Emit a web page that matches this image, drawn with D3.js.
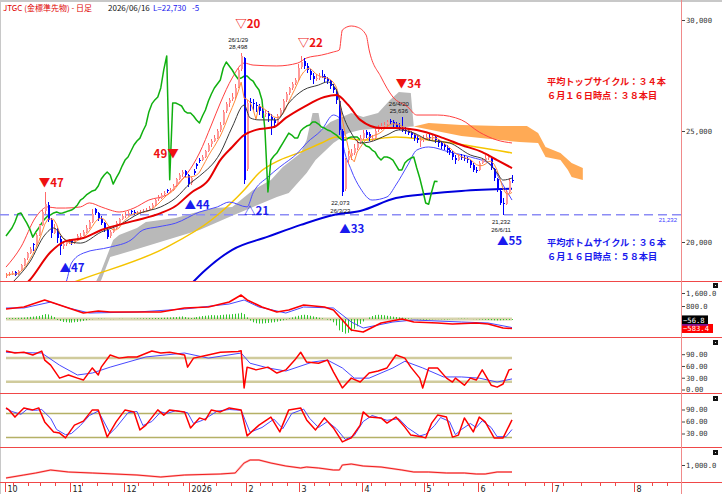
<!DOCTYPE html>
<html>
<head>
<meta charset="utf-8">
<script src="https://cdn.jsdelivr.net/npm/d3@7"></script>
<style>
  body { margin: 0; background: #fff; }
  svg { display: block; }
  .mono { font-family: "DejaVu Sans Mono", "Noto Sans CJK JP", monospace; }
  .jp { font-family: "Noto Sans CJK JP", sans-serif; font-weight: bold; }
</style>
</head>
<body>
<div class="canvas"></div>
<script>
// JTGC daily bars 2025/10/01 - 2026/06/16 : [open, high, low, close]
const ohlc = [
  [18450,18600,18380,18500],[18520,18650,18450,18560],[18580,18700,18500,18620],[18650,18680,18450,18520],[18540,18760,18500,18700],
  [18720,19000,18680,18950],[18960,19300,18900,19250],[19260,19560,19200,19500],[19520,19760,19450,19700],[19900,19950,19600,19850],
  [19870,20400,19800,20300],[20320,20800,20250,20750],[20780,21500,20700,21350],[21400,22250,21250,21700],[21650,21800,20900,21000],
  [21000,21100,20200,20400],[20420,20800,20350,20650],[20600,20650,19950,20200],[20150,20250,19400,19800],[19820,20050,19700,19900],
  [19900,20100,19800,19980],[19990,20150,19900,20050],[20080,20120,19850,19950],[19960,20150,19900,20080],[20090,20350,20050,20250],
  [20260,20400,20150,20270],[20280,20550,20250,20450],[20460,20750,20400,20630],[20650,21000,20600,20900],[20920,21500,20850,21260],
  [21500,21550,21200,21310],[21300,21350,20950,21080],[21050,21150,20750,20850],[20850,20900,20450,20580],[20550,20650,20150,20220],
  [20250,20550,20200,20450],[20470,20700,20400,20630],[20650,20950,20600,20850],[20870,21100,20800,21030],[21050,21250,20980,21170],
  [21180,21350,21100,21220],[21240,21400,21180,21310],[21380,21450,21250,21350],[21360,21420,21200,21300],[21290,21400,21220,21310],
  [21320,21450,21280,21350],[21360,21500,21300,21400],[21420,21520,21350,21440],[21450,21600,21400,21530],[21550,21750,21500,21670],
  [21680,21950,21620,21890],[21950,22100,21850,21980],[22000,22200,21950,22120],[22150,22300,22050,22210],[22320,22400,22200,22300],
  [22310,22450,22250,22340],[22350,22600,22300,22520],[22550,22900,22500,22840],[22860,23100,22800,23020],[23050,23250,22950,23150],
  [23200,23250,22950,23020],[23000,23050,22500,22610],[22650,22950,22550,22880],[23200,23300,23000,23110],[23500,23550,23300,23420],
  [23700,23800,23550,23690],[23700,23900,23650,23830],[23850,24150,23800,24100],[24120,24450,24050,24370],[24400,24650,24300,24550],
  [24570,24800,24500,24680],[24700,25100,24650,25000],[25050,25400,24950,25270],[25300,25950,25250,25860],[25900,26300,25800,26220],
  [26250,26500,26100,26400],[26420,26700,26350,26530],[26550,27100,26450,26940],[27000,27900,26950,27750],[27800,28498,27700,28380],
  [28300,28350,22600,22800],[23300,26400,23200,26260],[26300,26500,25900,26260],[26280,26450,25950,26200],[26150,26300,25850,26126],
  [26100,26200,25700,25900],[25900,26050,25600,25810],[25780,25950,25650,25810],[25800,25900,25400,25675],[25650,25750,24800,25495],
  [25500,25600,25150,25360],[25380,25750,25300,25675],[25700,26050,25650,25945],[25960,26450,25900,26351],[26380,26750,26300,26666],
  [26700,27000,26600,26937],[26950,27200,26850,27117],[27150,27400,27050,27297],[27300,28000,27250,27838],[27900,28400,27800,28108],
  [28150,28300,27800,27928],[27950,28050,27600,27748],[27700,27800,27300,27522],[27500,27600,27100,27342],[27350,27550,27250,27387],
  [27400,27600,27300,27477],[27500,27750,27400,27477],[27480,27550,27200,27342],[27350,27450,27100,27252],[27250,27300,26900,27027],
  [27000,27100,26700,26847],[26800,26900,26200,26396],[26350,26400,24800,25045],[25000,25100,22073,22251],[22400,23800,22300,23693],
  [23700,24100,23500,23873],[23880,24200,23700,24008],[24000,24400,23900,24234],[24250,24600,24150,24459],[24500,24800,24400,24684],
  [24700,25050,24600,24909],[24950,25050,24700,24819],[24850,24950,24550,24684],[24650,24800,24550,24684],[24700,25100,24650,25000],
  [25050,25250,24950,25135],[25150,25350,25050,25225],[25250,25400,25150,25270],[25300,25500,25200,25405],[25450,25550,25300,25405],
  [25400,25500,25200,25315],[25300,25400,25100,25180],[25200,25350,25050,25135],[25150,25636,24950,25045],[25050,25200,24850,25000],
  [25000,25100,24800,24909],[24900,25000,24700,24819],[24800,24900,24550,24684],[24700,24800,24450,24594],[24550,24700,24300,24594],
  [24600,24800,24500,24684],[24700,24850,24600,24729],[24750,24850,24600,24729],[24700,24850,24600,24729],[24750,24800,24450,24594],
  [24600,24650,24300,24459],[24450,24550,24200,24324],[24350,24450,24150,24279],[24250,24350,24000,24144],[24150,24250,23900,24054],
  [24000,24100,23700,23828],[23800,23900,23500,23693],[23700,23950,23650,23828],[23850,23950,23700,23828],[23800,23900,23650,23783],
  [23750,23850,23550,23693],[23650,23700,23350,23468],[23450,23550,23150,23243],[23250,23400,23100,23243],[23250,23650,23200,23558],
  [23570,23800,23500,23693],[23700,23900,23600,23783],[23800,23950,23700,23828],[23800,23850,23250,23333],[23300,23350,22750,22882],
  [22850,22900,22250,22342],[22300,22400,21650,21756],[21750,22000,21232,21700],[21700,22350,21650,22250],[22250,22900,22200,22735],
  [22800,23000,22650,22730]
];

// exchange holidays (weekdays with no session)
const holidays = ['2025-10-13','2025-11-03','2025-11-24','2025-12-31','2026-01-01','2026-01-02','2026-01-12',
  '2026-02-11','2026-02-23','2026-03-20','2026-04-29','2026-05-04','2026-05-05','2026-05-06','2026-07-20','2026-08-11'];
const monthLabels = ['10','11','12','2026','2','3','4','5','6','7','8'];

const ma25 = [[0,17400],[8,18290],[15,19550],[20,20040],[26,20180],[32,20540],[43,20950],[52,21300],[57,21620],[62,22200],
  [68,22790],[72,23690],[76,24280],[80,24820],[84,25050],[90,25180],[94,25590],[100,26080],[107,26530],[111,26620],
  [115,26170],[119,25500],[126,25130],[131,25130],[138,25050],[147,24680],[153,24370],[160,24050],[165,23690],[170,23330]];
const ma10 = [[0,17900],[3,18290],[8,19100],[13,20310],[16,20630],[20,20090],[25,19950],[32,20450],[38,20760],[45,21300],
  [52,21580],[57,21980],[62,22660],[65,22970],[72,24010],[76,25180],[80,26170],[82,25590],[85,25500],[91,25500],
  [95,26260],[100,26850],[105,27070],[108,27210],[111,26850],[113,25810],[116,24910],[119,24460],[122,24500],[128,24820],
  [132,25050],[137,24910],[142,24590],[149,24460],[156,23920],[161,23690],[165,23110],[167,22790],[170,22880]];
const ma75 = [[15,17800],[25,18300],[54,19770],[69,20990],[80,22340],[85,23110],[92,23690],[99,24050],[106,24460],[111,24730],
  [120,24590],[131,24730],[142,24590],[158,24280],[170,24010]];
const ma200 = [[60,17800],[67,18740],[76,19650],[88,20240],[99,20770],[110,21220],[119,21400],[131,21980],[142,22170],
  [153,22300],[170,22400]];
const bbUpper = [[0,18870],[5,19770],[10,21120],[14,21580],[17,21530],[20,21530],[25,21580],[28,21760],[32,21580],[35,21440],
  [38,21350],[43,21530],[48,21890],[54,22120],[58,22660],[61,23110],[65,24010],[69,25270],[72,26260],[76,27390],
  [80,28060],[83,27970],[91,27930],[98,28060],[101,28290],[106,28420],[110,28560],[112,28650],[113,29550],[116,29730],
  [118,29680],[121,29320],[122,28650],[126,27430],[130,26530],[135,26080],[138,25720],[145,25720],[153,25500],[159,24950],
  [165,24590],[170,24460]];
const bbLower = [[15,17700],[20,18150],[22,19050],[26,19500],[35,19770],[42,20090],[46,20540],[51,20680],[57,20850],[65,21350],
  [71,21580],[75,21800],[81,21580],[83,22210],[88,22930],[92,23380],[98,24010],[101,24460],[106,25040],[110,25720],
  [112,25590],[113,24590],[116,23240],[119,22430],[123,21890],[128,22030],[131,22570],[135,23470],[138,24140],[142,24280],
  [149,24050],[156,23830],[163,23470],[166,22790],[170,21890]];
// ichimoku cloud spans (the cloud runs 26 bars ahead of the last bar)
const spanA = [[28,17600],[32,18700],[36,20090],[38,20310],[44,20630],[47,20900],[52,20990],[57,21080],[63,21310],[70,21530],
  [76,21580],[83,22340],[89,22790],[93,23380],[99,24010],[101,24590],[103,25810],[105,25810],[106,25050],[109,25400],
  [116,25810],[120,25630],[125,25810],[129,26400],[132,26760],[136,26710],[137,25200],[153,24770],[166,24590],[172,24500],
  [177,24460],[179,23830],[183,23690],[185,23240],[186,22930],[189,22790]];
const spanB = [[28,17400],[32,18290],[35,19320],[43,19640],[54,20090],[65,20540],[75,21130],[83,21580],[91,22030],[95,22210],
  [101,23110],[104,23690],[110,24460],[115,24910],[119,25050],[128,25130],[137,25200],[142,25360],[153,25270],[166,25220],
  [174,25220],[177,24910],[179,24280],[183,24010],[186,23560],[189,23330]];
const kumoTwist = 137;

// cycle marks : [bar index, label price, text]
const topMarks = [[13,22480,'▼47'],[79,29640,'▽20'],[100,28780,'▽22'],[133,26940,'▼34']];
const bottomMarks = [[20,18650,'▲47'],[62,21490,'▲44'],[82,21220,'△21'],[114,20400,'▲33'],[167,19860,'▲55']];
const leftMarks = [[56,23780,'49▼']];
const peakNotes = [[79,'26/1/29'],[133,'26/4/20']];
const troughNotes = [[113,'26/3/23'],[167,'26/6/11']];
const topCycle = ['平均トップサイクル：３４本', '６月１６日時点：３８本目'];
const bottomCycle = ['平均ボトムサイクル：３６本', '６月１６日時点：５８本目'];

// MACD : [bar index, value]
const macdLine = [[0,615],[6,738],[13,1170],[15,1045],[21,677],[26,369],[31,492],[35,430],[44,430],[52,430],[60,677],
  [68,738],[75,1045],[79,1476],[81,1170],[86,738],[91,430],[95,554],[100,861],[107,738],[110,554],[113,-62],[116,-677],
  [120,-800],[126,-246],[133,0],[137,-185],[145,-246],[150,-308],[158,-246],[162,-308],[167,-554],[170,-583]];
const macdSignal = [[0,677],[6,677],[15,1045],[21,677],[28,369],[44,430],[60,615],[75,923],[80,1170],[85,738],[94,369],
  [100,738],[110,677],[116,-185],[120,-554],[130,-185],[137,-62],[153,-185],[162,-246],[170,-527]];
const macdHist = [40,50,60,60,70,80,90,110,130,150,170,190,
  250,300,280,200,120,
  -60,-120,-180,-200,-220,-220,-200,-180,-150,-120,-80,
  -40,-20,0,20,20,10,0,-10,-10,0,10,10,0,0,10,20,30,30,
  40,40,50,50,60,60,70,80,90,100,110,120,140,160,
  120,80,60,80,120,150,180,200,220,240,230,220,240,260,280,280,300,320,340,380,
  300,100,-100,-200,-260,-280,-280,-260,-240,-220,-200,-160,-120,-80,-40,
  40,100,150,200,240,260,240,200,160,120,80,40,0,-40,-80,
  -200,-400,-700,-800,-900,-850,-750,-600,-450,-300,-150,0,100,180,240,
  260,250,230,200,170,140,120,100,80,60,40,20,0,-20,-30,-40,
  -40,-30,-20,-10,-10,-20,-30,-30,-20,-10,0,10,20,20,10,0,-10,-20,-30,-40,-50,-60,-70,-80,-90,-80,-70,-60,-60,-57];
const macdLast = -583.4;
const histLast = -56.8;

// RSI
const rsiLine = [[0,98],[3,93],[6,95],[9,88],[12,98],[13,75],[15,62],[18,29],[21,37],[24,29],[26,24],[29,55],[31,37],
  [32,57],[35,88],[38,80],[41,83],[44,83],[49,98],[52,93],[55,95],[60,88],[61,57],[63,80],[66,85],[72,95],[78,97],
  [79,99],[80,4],[81,57],[84,50],[88,57],[91,42],[94,50],[97,75],[99,95],[101,70],[105,67],[108,75],[110,45],[113,4],
  [116,29],[119,19],[122,42],[125,47],[128,55],[131,88],[134,80],[136,57],[139,29],[140,4],[142,55],[145,55],[148,29],
  [150,19],[151,29],[154,11],[156,29],[158,24],[160,50],[161,37],[163,11],[165,6],[167,14],[169,50],[170,52]];
const rsiSignal = [[0,95],[12,93],[18,62],[24,37],[29,42],[35,57],[41,70],[47,83],[60,93],[68,80],[79,93],[82,67],
  [88,55],[94,47],[103,70],[108,75],[113,55],[117,29],[122,29],[130,55],[134,72],[140,55],[147,32],[153,32],[159,29],
  [165,19],[170,27]];
const rsiBands = [80, 20];

// stochastics
const stochK = [[0,94],[1,89],[3,71],[6,94],[9,89],[11,94],[13,59],[16,34],[18,31],[20,19],[23,51],[26,61],[29,89],
  [31,89],[34,21],[37,59],[40,89],[43,84],[45,39],[47,51],[51,89],[53,76],[55,89],[60,84],[62,44],[65,69],[67,64],
  [69,89],[72,84],[75,94],[79,89],[81,24],[85,51],[89,71],[92,34],[95,89],[99,94],[101,64],[104,39],[107,69],[110,44],
  [113,9],[116,19],[119,51],[120,84],[122,71],[126,69],[128,56],[131,71],[134,46],[136,26],[140,21],[141,19],[143,56],
  [145,76],[148,71],[150,21],[152,26],[154,69],[157,34],[159,71],[161,59],[164,19],[167,19],[170,64]];
const stochD = [[0,92],[2,85],[5,78],[7,90],[10,88],[12,90],[15,68],[17,40],[20,27],[22,30],[25,50],[28,75],[31,86],
  [35,30],[37,45],[41,82],[44,85],[46,50],[49,60],[52,84],[54,80],[57,87],[61,82],[63,55],[66,63],[68,72],[71,86],
  [75,90],[79,88],[82,33],[86,45],[90,66],[93,42],[96,80],[100,91],[102,68],[105,45],[108,60],[111,42],[114,15],
  [117,25],[120,60],[123,75],[128,63],[132,67],[135,44],[139,24],[141,28],[144,50],[146,70],[149,60],[151,27],[153,40],
  [156,55],[158,45],[160,62],[163,45],[165,22],[168,22],[170,40]];
const stochBands = [80, 20];

// bottom pane
const lowerLine = [[0,675],[6,750],[10,800],[15,875],[21,825],[29,800],[44,750],[52,700],[60,750],[72,775],[77,800],
  [80,1050],[82,1125],[85,1125],[89,1050],[94,975],[99,925],[101,950],[105,925],[110,875],[112,875],[113,1000],
  [116,1025],[120,975],[126,950],[133,875],[137,825],[142,825],[148,800],[154,800],[158,775],[161,775],[165,825],[170,825]];

// ---------------------------------------------------------------
const svg = d3.select('.canvas').append('svg').attr('width', 722).attr('height', 494);

const plotRight = 681;
const panels = {main: [3, 281], macd: [282, 338], rsi: [338, 394], stoch: [394, 448], vol: [448, 482]};

const defs = svg.append('defs');
Object.entries(panels).forEach(([k, [t, b]]) => {
  defs.append('clipPath').attr('id', 'clip-' + k).append('rect')
    .attr('x', 0).attr('y', t).attr('width', plotRight).attr('height', b - t);
});

// trading calendar
const fmt = d3.timeFormat('%Y-%m-%d');
const days = d3.timeDay.range(new Date(2025, 9, 1), new Date(2026, 8, 1))
  .filter(d => d.getDay() % 6 !== 0 && !holidays.includes(fmt(d)));
const last = ohlc.length - 1;
const augStart = days.findIndex(d => d.getMonth() === 7);

// scales
const x = d3.scaleLinear().domain([0, last, augStart]).range([6, 512, 635]);
const y = d3.scaleLinear().domain([20000, 30000]).range([242, 20]);
const macdY = d3.scaleLinear().domain([-800, 1600]).range([332, 293]);
const rsiY = d3.scaleLinear().domain([0, 90]).range([389.5, 354.2]);
const stochY = d3.scaleLinear().domain([0, 90]).range([445.5, 409.5]);
const volY = d3.scaleLinear().domain([500, 1000]).range([485, 465]);

const pane = k => svg.append('g').attr('clip-path', `url(#clip-${k})`);
const drawLine = (g, data, ys, color, width, curve) => g.append('path')
  .datum(data)
  .attr('fill', 'none')
  .attr('stroke', color)
  .attr('stroke-width', width)
  .attr('stroke-linejoin', 'round')
  .attr('d', d3.line().x(d => x(d[0])).y(d => ys(d[1])).curve(curve || d3.curveLinear));

// frame
svg.append('line').attr('x1', 0).attr('x2', 722).attr('y1', 1).attr('y2', 1).attr('stroke', '#c8c8c8').attr('stroke-width', 2);
svg.append('line').attr('x1', 0.5).attr('x2', 0.5).attr('y1', 2).attr('y2', 494).attr('stroke', '#c8c8c8');

// ---------------- main pane ----------------
const main = pane('main');
const closes = ohlc.map(d => d[3]);
const sma5 = closes.map((c, i) => [i, d3.mean(closes.slice(Math.max(0, i - 4), i + 1))]);
const chikou = closes.slice(25).map((c, i) => [i, c]);

const kumoPath = (top, bottom) => {
  const pts = top.concat(bottom.slice().reverse());
  return 'M' + pts.map(p => `${x(p[0])},${y(p[1])}`).join('L') + 'Z';
};
main.append('path')
  .attr('d', kumoPath(spanA.filter(d => d[0] <= kumoTwist), spanB.filter(d => d[0] <= kumoTwist)))
  .attr('fill', '#b9b9b9');
main.append('path')
  .attr('d', kumoPath(spanB.filter(d => d[0] >= kumoTwist), spanA.filter(d => d[0] >= kumoTwist)))
  .attr('fill', '#ffaa55');

const lowMark = ohlc[troughNotes[1][0]][2];
main.append('line')
  .attr('x1', 0).attr('x2', plotRight)
  .attr('y1', y(lowMark)).attr('y2', y(lowMark))
  .attr('stroke', '#8c8cf5').attr('stroke-width', 1.5).attr('stroke-dasharray', '9,5');

const smooth = d3.curveMonotoneX;
drawLine(main, ma200, y, '#0000dd', 2, smooth);
drawLine(main, ma75, y, '#f5c400', 1.5, smooth);
drawLine(main, bbUpper, y, '#ff4040', 1, smooth);
drawLine(main, bbLower, y, '#4a4aff', 1, smooth);
drawLine(main, chikou, y, '#10b010', 1.5);

// candles
const candles = main.append('g').attr('shape-rendering', 'crispEdges');
const up = d => d[3] >= d[0];
candles.selectAll('line').data(ohlc).join('line')
  .attr('x1', (d, i) => Math.round(x(i)) + 0.5).attr('x2', (d, i) => Math.round(x(i)) + 0.5)
  .attr('y1', d => y(d[1])).attr('y2', d => y(d[2]))
  .attr('stroke', d => up(d) ? '#ff6a6a' : '#0000ff');
candles.selectAll('rect').data(ohlc).join('rect')
  .attr('x', (d, i) => Math.round(x(i)))
  .attr('width', 2)
  .attr('y', d => y(Math.max(d[0], d[3])))
  .attr('height', d => Math.max(1, Math.abs(y(d[0]) - y(d[3]))))
  .attr('fill', d => up(d) ? '#ff9a9a' : '#0000ff');

drawLine(main, sma5, y, '#ff8a3a', 1);
drawLine(main, ma10, y, '#3a3a3a', 1, smooth);
drawLine(main, ma25, y, '#e60000', 2, smooth);

// cycle marks
const markText = (data, color, anchor, dx) => main.append('g').selectAll('text').data(data).join('text')
  .attr('class', 'jp')
  .attr('x', d => x(d[0]) + dx).attr('y', d => y(d[1]))
  .attr('text-anchor', anchor)
  .attr('font-size', 11.5)
  .attr('fill', color)
  .text(d => d[2]);
markText(topMarks, '#ee1111', 'start', -6);
markText(leftMarks, '#ee1111', 'end', 6);
markText(bottomMarks, '#1a1aee', 'start', -6);

const noteFont = '"Liberation Sans", sans-serif';
peakNotes.forEach(([i, label]) => {
  const yy = y(ohlc[i][1]);
  main.append('text').attr('x', x(i) - 3).attr('y', yy - 11).attr('text-anchor', 'middle')
    .attr('font-family', noteFont).attr('font-size', 6).attr('fill', '#111').text(label);
  main.append('text').attr('x', x(i) - 3).attr('y', yy - 4).attr('text-anchor', 'middle')
    .attr('font-family', noteFont).attr('font-size', 6).attr('fill', '#111').text(d3.format(',')(ohlc[i][1]));
});
troughNotes.forEach(([i, label]) => {
  const yy = y(ohlc[i][2]);
  main.append('text').attr('x', x(i) - 2).attr('y', yy + 9).attr('text-anchor', 'middle')
    .attr('font-family', noteFont).attr('font-size', 6).attr('fill', '#111').text(d3.format(',')(ohlc[i][2]));
  main.append('text').attr('x', x(i) - 2).attr('y', yy + 17).attr('text-anchor', 'middle')
    .attr('font-family', noteFont).attr('font-size', 6).attr('fill', '#111').text(label);
});
main.append('text').attr('x', plotRight - 4).attr('y', y(lowMark) + 7).attr('text-anchor', 'end')
  .attr('font-family', noteFont).attr('font-size', 6).attr('fill', '#3a3aff').text(d3.format(',')(lowMark));

const cycleBlock = (lines, price, color) => main.append('g').selectAll('text').data(lines).join('text')
  .attr('class', 'jp')
  .attr('x', 547).attr('y', (d, i) => y(price) + i * 14)
  .attr('font-size', 9.2)
  .attr('fill', color)
  .text(d => d);
cycleBlock(topCycle, 27050, '#ee1111');
cycleBlock(bottomCycle, 19800, '#1a1aee');

// title
const title = svg.append('text').attr('x', 3).attr('y', 11).attr('font-size', 8)
  .attr('font-family', '"Noto Sans CJK JP", sans-serif');
title.append('tspan').attr('fill', '#e00000').text('JTGC (金標準先物) - 日足');
title.append('tspan').attr('x', 108).attr('fill', '#111').text(fmt(days[last]).replace(/-/g, '/'));
title.append('tspan').attr('x', 153).attr('fill', '#2020ee').text('L=' + d3.format(',')(closes[last]));
title.append('tspan').attr('x', 192).attr('fill', '#2020ee').text(closes[last] - closes[last - 1]);

// ---------------- MACD ----------------
const macd = pane('macd');
macd.append('line').attr('x1', x(0)).attr('x2', x(last)).attr('y1', macdY(0)).attr('y2', macdY(0))
  .attr('stroke', '#d8d3ae').attr('stroke-width', 3);
macd.append('g').selectAll('line').data(macdHist).join('line')
  .attr('x1', (d, i) => Math.round(x(i)) + 0.5).attr('x2', (d, i) => Math.round(x(i)) + 0.5)
  .attr('y1', macdY(0)).attr('y2', d => macdY(d))
  .attr('stroke', '#2ec42e');
drawLine(macd, macdSignal, macdY, '#4848ff', 1);
drawLine(macd, macdLine, macdY, '#ff0000', 1.6);

// ---------------- RSI ----------------
const rsi = pane('rsi');
rsi.selectAll('line.band').data(rsiBands).join('line')
  .attr('x1', x(0)).attr('x2', x(last)).attr('y1', d => rsiY(d)).attr('y2', d => rsiY(d))
  .attr('stroke', '#d0cb9c').attr('stroke-width', 2.5);
drawLine(rsi, rsiSignal, rsiY, '#4848ff', 1);
drawLine(rsi, rsiLine, rsiY, '#ff0000', 1.5);

// ---------------- stochastics ----------------
const stoch = pane('stoch');
stoch.selectAll('line.band').data(stochBands).join('line')
  .attr('x1', x(0)).attr('x2', x(last)).attr('y1', d => stochY(d)).attr('y2', d => stochY(d))
  .attr('stroke', '#b5b066').attr('stroke-width', 1.5);
drawLine(stoch, stochD, stochY, '#4848ff', 1);
drawLine(stoch, stochK, stochY, '#ff0000', 1.5);

// ---------------- bottom pane ----------------
const vol = pane('vol');
drawLine(vol, lowerLine, volY, '#ffb4b4', 2.2);
drawLine(vol, lowerLine, volY, '#f02020', 1);

// separators
[281.5, 337.5, 393.5, 447.5, 482.5].forEach(yy => {
  svg.append('line').attr('x1', 0).attr('x2', 722).attr('y1', yy).attr('y2', yy)
    .attr('stroke', '#f04848').attr('stroke-width', 1);
});
svg.append('line').attr('x1', plotRight + 0.5).attr('x2', plotRight + 0.5).attr('y1', 0).attr('y2', 494)
  .attr('stroke', '#f08a8a');

// right axes
const addAxis = (scale, ticks, format) => {
  const g = svg.append('g')
    .attr('transform', `translate(${plotRight + 1},0)`)
    .call(d3.axisRight(scale).tickValues(ticks).tickFormat(format).tickSize(3).tickPadding(1));
  g.attr('font-size', 7.2).attr('font-family', '"DejaVu Sans Mono", monospace');
  g.select('.domain').remove();
  g.selectAll('text').attr('fill', '#333');
  g.selectAll('line').attr('stroke', '#444');
  return g;
};
addAxis(y, [30000, 25000, 20000], d3.format(','));
addAxis(macdY, [1600, 800], d3.format(',.1f'));
addAxis(rsiY, [90, 60, 30, 0], d3.format('.2f'));
addAxis(stochY, [90, 60, 30], d3.format('.2f'));
addAxis(volY, [1000], d3.format(',.1f'));

// last-value tags on MACD axis
[[histLast, '#000', 26], [macdLast, '#ff0000', 31]].forEach(([v, bg, w]) => {
  const g = svg.append('g').attr('transform', `translate(${plotRight + 1},${macdY(v)})`);
  g.append('rect').attr('x', 0).attr('y', -4.5).attr('width', w).attr('height', 9).attr('fill', bg);
  g.append('text').attr('x', 1).attr('y', 3).attr('font-size', 7.2)
    .attr('font-family', '"DejaVu Sans Mono", monospace').attr('fill', '#fff').text(d3.format('.1f')(v));
});
svg.append('line').attr('x1', plotRight + 1).attr('x2', plotRight + 27).attr('y1', macdY(histLast) + 5).attr('y2', macdY(histLast) + 5)
  .attr('stroke', '#2020ff').attr('stroke-width', 1);

// pane buttons
[283, 340, 396, 450].forEach(yy => {
  svg.append('rect').attr('x', 713).attr('y', yy).attr('width', 5).attr('height', 5).attr('fill', '#111');
  svg.append('rect').attr('x', 715).attr('y', yy + 2).attr('width', 1).attr('height', 1).attr('fill', '#ddd');
});

// time axis
const indexed = days.map((d, i) => ({d, i})).filter(o => x(o.i) < plotRight - 2);
const monthTicks = indexed.filter(o => o.i === 0 || o.d.getMonth() !== days[o.i - 1].getMonth());
const weekTicks = indexed.filter(o => o.i > 0 && +d3.timeMonday.floor(o.d) !== +d3.timeMonday.floor(days[o.i - 1]));
const tx = i => Math.round(x(i) - 1.5) + 0.5;
svg.append('g').selectAll('line').data(weekTicks).join('line')
  .attr('x1', o => tx(o.i)).attr('x2', o => tx(o.i)).attr('y1', 482).attr('y2', 486)
  .attr('stroke', '#f04848');
svg.append('g').selectAll('line').data(monthTicks).join('line')
  .attr('x1', o => tx(o.i)).attr('x2', o => tx(o.i)).attr('y1', 482).attr('y2', 492)
  .attr('stroke', '#f04848');
svg.append('g').selectAll('text').data(monthTicks).join('text')
  .attr('x', o => tx(o.i) + 2).attr('y', 492)
  .attr('font-family', '"DejaVu Sans", sans-serif').attr('font-size', 8).attr('fill', '#222')
  .text((o, k) => monthLabels[k]);
</script>
</body>
</html>
